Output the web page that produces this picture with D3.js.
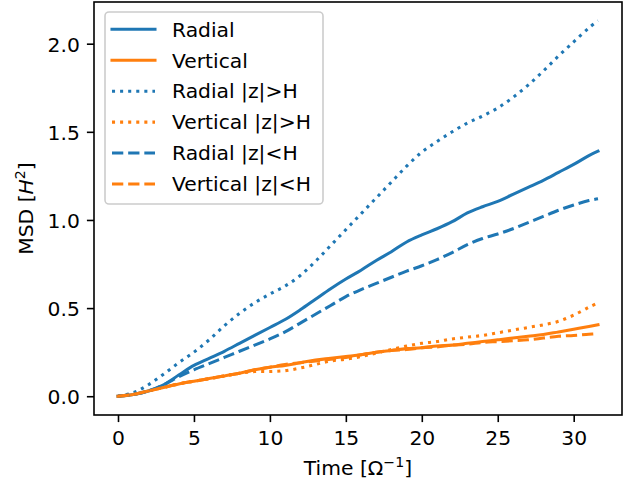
<!DOCTYPE html>
<html>
<head>
<meta charset="utf-8">
<script src="https://cdn.jsdelivr.net/npm/d3@7"></script>
<style>
  html, body { margin: 0; padding: 0; background: #fff; }
  svg { display: block; }
  text { font-family: "DejaVu Sans", sans-serif; fill: #000; }
</style>
</head>
<body>
<svg id="chart" width="629" height="479"></svg>
<script>
// ---- data ----
const times = [0,1,2,3,4,5,6,7,8,9,10,11,12,13,14,15,16,17,18,19,20,21,22,23,24,25,26,27,28,29,30,31,31.6];
const radial = [0,0.01,0.03,0.065,0.12,0.175,0.215,0.255,0.30,0.345,0.39,0.435,0.49,0.55,0.61,0.665,0.715,0.77,0.82,0.875,0.915,0.95,0.99,1.04,1.075,1.105,1.145,1.185,1.225,1.27,1.315,1.365,1.39];
const vertical = [0,0.01,0.03,0.05,0.07,0.085,0.10,0.115,0.13,0.15,0.165,0.175,0.19,0.205,0.215,0.225,0.235,0.25,0.26,0.27,0.275,0.285,0.29,0.30,0.31,0.32,0.33,0.34,0.35,0.365,0.38,0.395,0.405];
const radialOut = [0,0.02,0.065,0.125,0.19,0.25,0.32,0.40,0.47,0.53,0.58,0.625,0.685,0.765,0.855,0.945,1.035,1.125,1.215,1.305,1.385,1.445,1.50,1.55,1.59,1.635,1.695,1.765,1.845,1.93,2.01,2.09,2.13];
const verticalOut = [0,0.01,0.03,0.05,0.07,0.085,0.10,0.115,0.13,0.14,0.14,0.145,0.16,0.18,0.20,0.21,0.225,0.245,0.265,0.285,0.30,0.31,0.325,0.335,0.345,0.36,0.375,0.39,0.405,0.425,0.46,0.505,0.53];
const radialIn = [0,0.01,0.03,0.065,0.11,0.15,0.185,0.22,0.255,0.29,0.325,0.365,0.415,0.465,0.515,0.565,0.605,0.64,0.675,0.71,0.74,0.775,0.815,0.86,0.895,0.92,0.95,0.985,1.02,1.055,1.085,1.11,1.12];
const verticalIn = [0,0.01,0.03,0.05,0.07,0.085,0.10,0.115,0.13,0.15,0.165,0.18,0.19,0.20,0.21,0.22,0.235,0.25,0.26,0.265,0.275,0.28,0.29,0.295,0.305,0.31,0.315,0.32,0.33,0.34,0.345,0.352,0.355];
const xTicks = [0,5,10,15,20,25,30];
const yTicks = [0.0,0.5,1.0,1.5,2.0];
const seriesNames = ["Radial","Vertical","Radial |z|>H","Vertical |z|>H","Radial |z|<H","Vertical |z|<H"];

// ---- styles ----
const C0 = "#1f77b4", C1 = "#ff7f0e";
const FS = 20.3;          // font size px
const LW = 3.05;          // line width px
const dotted = `${LW*1} ${LW*1.65}`;
const dashed = `${LW*3.7} ${LW*1.6}`;
const series = [
  {name: seriesNames[0], values: radial,      color: C0, dash: null},
  {name: seriesNames[1], values: vertical,    color: C1, dash: null},
  {name: seriesNames[2], values: radialOut,   color: C0, dash: dotted},
  {name: seriesNames[3], values: verticalOut, color: C1, dash: dotted},
  {name: seriesNames[4], values: radialIn,    color: C0, dash: dashed},
  {name: seriesNames[5], values: verticalIn,  color: C1, dash: dashed}
];

const L = 94, R = 622, T = 2, B = 415;
const svg = d3.select("#chart");

const xExt = d3.extent(times);
const xPad = (xExt[1]-xExt[0])*0.05;
const allY = series.flatMap(s => s.values);
const yExt = d3.extent(allY);
const yPad = (yExt[1]-yExt[0])*0.05;

const x = d3.scaleLinear().domain([xExt[0]-xPad, xExt[1]+xPad]).range([L, R]);
const y = d3.scaleLinear().domain([yExt[0]-yPad, yExt[1]+yPad]).range([B, T]);

// lines
const line = d3.line().x(d => x(d[0])).y(d => y(d[1])).curve(d3.curveCatmullRom.alpha(0.5));
const gLines = svg.append("g");
series.forEach(s => {
  gLines.append("path")
    .datum(times.map((t,i) => [t, s.values[i]]))
    .attr("d", line)
    .attr("fill", "none")
    .attr("stroke", s.color)
    .attr("stroke-width", LW)
    .attr("stroke-linejoin", "round")
    .attr("stroke-linecap", s.dash ? "butt" : "square")
    .attr("stroke-dasharray", s.dash);
});

// axes
const TICK = 7.1, PAD = 7.1, SW = 1.6;
const xAxis = d3.axisBottom(x).tickValues(xTicks).tickFormat(d3.format("d")).tickSize(TICK).tickPadding(PAD);
const yAxis = d3.axisLeft(y).tickValues(yTicks).tickFormat(d3.format(".1f")).tickSize(TICK).tickPadding(PAD);

const gx = svg.append("g").attr("transform", `translate(0,${B})`).call(xAxis);
const gy = svg.append("g").attr("transform", `translate(${L},0)`).call(yAxis);
[gx, gy].forEach(g => {
  g.select(".domain").remove();
  g.selectAll(".tick line").attr("stroke", "#000").attr("stroke-width", SW);
  g.selectAll(".tick text").attr("font-size", FS).attr("font-family", "DejaVu Sans").attr("fill", "#000");
});
gx.selectAll(".tick text").attr("dy", null).attr("y", TICK + PAD + 0.76*FS);
gy.selectAll(".tick text").attr("dy", "0.36em");

// frame
svg.append("rect")
  .attr("x", L).attr("y", T).attr("width", R-L).attr("height", B-T)
  .attr("fill", "none").attr("stroke", "#000").attr("stroke-width", SW);

// axis labels
const xl = svg.append("text")
  .attr("x", (L+R)/2).attr("y", 474.5)
  .attr("text-anchor", "middle").attr("font-size", FS);
xl.append("tspan").text("Time [Ω");
xl.append("tspan").attr("font-size", FS*0.7).attr("dy", -8).text("−1");
xl.append("tspan").attr("dy", 8).text("]");

const yl = svg.append("text")
  .attr("transform", `translate(33,${(T+B)/2}) rotate(-90)`)
  .attr("text-anchor", "middle").attr("font-size", FS);
yl.append("tspan").text("MSD [");
yl.append("tspan").attr("font-style", "italic").text("H");
yl.append("tspan").attr("font-size", FS*0.7).attr("dy", -8).text("2");
yl.append("tspan").attr("dy", 8).text("]");

// legend
const lg = svg.append("g");
lg.append("rect")
  .attr("x", 105).attr("y", 12).attr("width", 218).attr("height", 192)
  .attr("rx", 4).attr("ry", 4)
  .attr("fill", "#fff").attr("fill-opacity", 0.8)
  .attr("stroke", "#cccccc").attr("stroke-width", 1.6);
const rowY = d3.scaleLinear().domain([0, series.length-1]).range([29.3, 184]);
series.forEach((s, i) => {
  const yy = rowY(i);
  lg.append("line")
    .attr("x1", 112).attr("x2", 155).attr("y1", yy).attr("y2", yy)
    .attr("stroke", s.color).attr("stroke-width", LW)
    .attr("stroke-linecap", s.dash ? "butt" : "square")
    .attr("stroke-dasharray", s.dash);
  lg.append("text")
    .attr("x", 172).attr("y", yy + 7.3)
    .attr("font-size", FS).text(s.name);
});
</script>
</body>
</html>
